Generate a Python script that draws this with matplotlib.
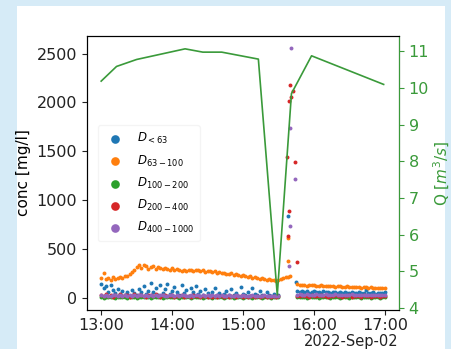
import numpy as np
import pandas as pd
import matplotlib
matplotlib.use('Agg')
import matplotlib.pyplot as plt
import matplotlib.dates as mdates
from matplotlib.patches import Rectangle

# sediment samples: every 2 minutes from 13:00 to 17:00 (nan = no sample)
nan = np.nan
conc_63_100 = [
    200, 250, 190, 205, 185, 210, 195,
    200, 215, 205, 220, 225, 240, 260,
    290, 320, 335, 310, 340, 325, 300,
    315, 330, 300, 320, 305, 295, 310, 300, 290, 305,
    280, 295, 285, 270, 290, 275, 285, 280, 270, 285, 290, 275, 280, 265, 270,
    275, 260, 270, 255, 265, 250, 255, 245, 240, 250, 235, 240, 230, 225, 230,
    220, 215, 225, 205, 210, 200, 195, 205, 190, 185, 195, 180, 185, 175, 180,
    190, 205, 210, 215, 225, nan, nan,
    140, 135, 130, 135, 125, 130, 128, 132, 125, 120,
    128, 122, 125, 118, 122, 120, 115, 118, 120, 112,
    115, 118, 110, 115, 108, 112, 110, 105, 110, 108,
    102, 106, 100, 105, 98, 102, 100, 105]
conc_lt63 = [
    140, 100, 120, 60, 130, 80, 50,
    90, 40, 70, 30, 60, 20, 80,
    50, 30, 90, 60, 120, 40, 70,
    150, 60, 100, 30, 130, 50, 90, 140, 40, 70,
    110, 60, 30, 130, 50, 80, 20, 100, 60, 120, 40, 70, 30, 90, 50,
    20, 60, 100, 30, 50, 20, 40, 70, 25, 90, 30, 50, 20, 110, 40,
    30, 60, 20, 100, 40, 25, 70, 30, 20, 60, 30, 20, 40, 20, 30,
    nan, nan, nan, nan, nan, nan, nan,
    70, 60, 65, 55, 70, 50, 60, 65, 55, 60,
    50, 65, 55, 60, 50, 55, 60, 45, 55, 50,
    60, 45, 50, 55, 45, 50, 55, 45, 50, 80,
    50, 45, 55, 40, 50, 45, 50, 60]
conc_100_200 = [
    5, 3, 6, 4, 8, 5, 3,
    6, 4, 5, 7, 3, 5, 6,
    4, 3, 5, 8, 4, 6, 5,
    3, 6, 4, 5, 7, 3, 5, 4, 6, 5,
    4, 6, 3, 5, 7, 4, 5, 3, 6, 4, 5, 7, 3, 5, 4,
    6, 3, 5, 4, 7, 5, 3, 6, 4, 5, 3, 6, 4, 5, 3,
    5, 4, 6, 3, 5, 4, 6, 3, 5, 4, 6, 3, 5, 4, 6,
    nan, nan, nan, nan, nan, nan, nan,
    6, 4, 5, 7, 3, 5, 6, 4, 5, 3,
    6, 4, 5, 7, 3, 5, 4, 6, 3, 5,
    4, 6, 3, 5, 7, 4, 5, 3, 6, 4,
    5, 3, 6, 4, 5, 3, 6, 4]
conc_200_400 = [
    30, 15, 35, 20, 25, 10, 30,
    20, 35, 15, 25, 30, 10, 20,
    35, 15, 25, 30, 20, 10, 30,
    25, 15, 35, 20, 10, 25, 30, 15, 20, 25,
    10, 20, 15, 25, 10, 20, 15, 10, 25, 15, 20, 10, 15, 20, 10,
    15, 10, 20, 10, 15, 20, 10, 15, 10, 20, 15, 10, 15, 20, 10,
    15, 10, 20, 15, 10, 15, 10, 20, 15, 10, 15, 10, 15, 10, 15,
    nan, nan, nan, nan, nan, nan, nan,
    20, 15, 25, 15, 20, 10, 25, 15, 20, 15,
    25, 15, 20, 10, 20, 15, 25, 15, 20, 10,
    20, 15, 25, 10, 20, 15, 20, 10, 25, 15,
    20, 10, 15, 20, 15, 10, 20, 15]
conc_400_1000 = [
    25, 20, 30, 22, 18, 28, 24,
    20, 26, 22, 30, 18, 25, 22,
    28, 20, 24, 26, 22, 30, 20,
    25, 22, 28, 20, 24, 26, 22, 20, 28, 24,
    22, 26, 20, 24, 28, 22, 20, 25, 22, 28, 24, 20, 26, 22, 24,
    20, 24, 22, 26, 20, 24, 22, 18, 24, 20, 22, 26, 20, 22, 24,
    20, 22, 18, 24, 20, 22, 18, 20, 24, 18, 22, 20, 18, 22, 20,
    nan, nan, nan, nan, nan, nan, nan,
    30, 35, 28, 32, 38, 30, 34, 28, 36, 30,
    32, 28, 35, 30, 33, 28, 36, 30, 32, 28,
    34, 30, 28, 35, 30, 32, 28, 34, 30, 28,
    32, 30, 28, 34, 30, 28, 32, 30]

# isolated samples around the flushing event (time, value)
spike_lt63 = [('15:38', 842), ('15:45', 160)]
spike_63_100 = [('15:38', 615), ('15:38', 380)]
spike_200_400 = [('15:40', 2179), ('15:42', 2115), ('15:41', 2060), ('15:39', 2013),
                 ('15:37', 1443), ('15:44', 1388), ('15:39', 886), ('15:38', 628),
                 ('15:46', 367)]
spike_400_1000 = [('15:41', 2553), ('15:40', 1738), ('15:44', 1219), ('15:40', 740),
                  ('15:39', 326)]

# discharge
q_times = ['13:00', '13:13', '13:30', '14:11', '14:26', '14:42', '15:13',
           '15:29', '15:41', '15:58', '16:59']
q_values = [10.19, 10.59, 10.78, 11.07, 10.98, 10.98, 10.79,
            4.36, 9.85, 10.88, 10.1]

labels = ['$D_{<63}$', '$D_{63-100}$', '$D_{100-200}$', '$D_{200-400}$', '$D_{400-1000}$']

day = '2022-09-02 '
t_grid = pd.date_range(day + '13:00', day + '17:00', freq='2min')


def spike_xy(pts):
    return ([pd.Timestamp(day + t) for t, _ in pts], [v for _, v in pts])


fig = plt.figure(figsize=(4.52, 3.49), dpi=100)
fig.patch.set_facecolor('#d6ebf7')
fig.patches.append(Rectangle((17 / 452, 0), (445 - 17) / 452, 1 - 6 / 349,
                             transform=fig.transFigure, facecolor='white',
                             edgecolor='none', zorder=-10))

ax = fig.add_axes([87 / 452, 1 - 310 / 349, 312 / 452, 274 / 349])
series = [(conc_lt63, spike_lt63), (conc_63_100, spike_63_100),
          (conc_100_200, []), (conc_200_400, spike_200_400),
          (conc_400_1000, spike_400_1000)]
for i, ((vals, spk), lab) in enumerate(zip(series, labels)):
    sx, sy = spike_xy(spk)
    x = list(t_grid) + sx
    y = list(vals) + sy
    ax.scatter(x, y, s=8, color=f'C{i}', label=lab, linewidths=0)

ax.set_ylabel('conc [mg/l]', fontsize=11)
ax.tick_params(labelsize=11.5, colors='#222222')
ax.tick_params(axis='x', pad=2.5)

loc = mdates.HourLocator()
ax.xaxis.set_major_locator(loc)
ax.xaxis.set_major_formatter(mdates.ConciseDateFormatter(loc))
ax.xaxis.get_offset_text().set_fontsize(10.5)
ax.xaxis.OFFSETTEXTPAD = 0.5

leg = ax.legend(loc='upper left', bbox_to_anchor=(0.015, 0.695), fontsize=8.5,
                markerscale=2.2, framealpha=0.6, edgecolor='#eeeeee',
                labelspacing=0.6, handletextpad=0.8, borderpad=0.5)

qc = '#3a9a3a'
ax2 = ax.twinx()
ax2.plot([pd.Timestamp(day + t) for t in q_times], q_values, color=qc, lw=1.2)
ax2.set_ylim(3.95, 11.42)
ax2.set_ylabel('Q [$m^3/s$]', color=qc, fontsize=11, labelpad=2)
ax2.tick_params(axis='y', colors=qc, labelsize=11.5)
ax2.spines['right'].set_color(qc)

fig.savefig('out.png', dpi=100, facecolor=fig.get_facecolor())
